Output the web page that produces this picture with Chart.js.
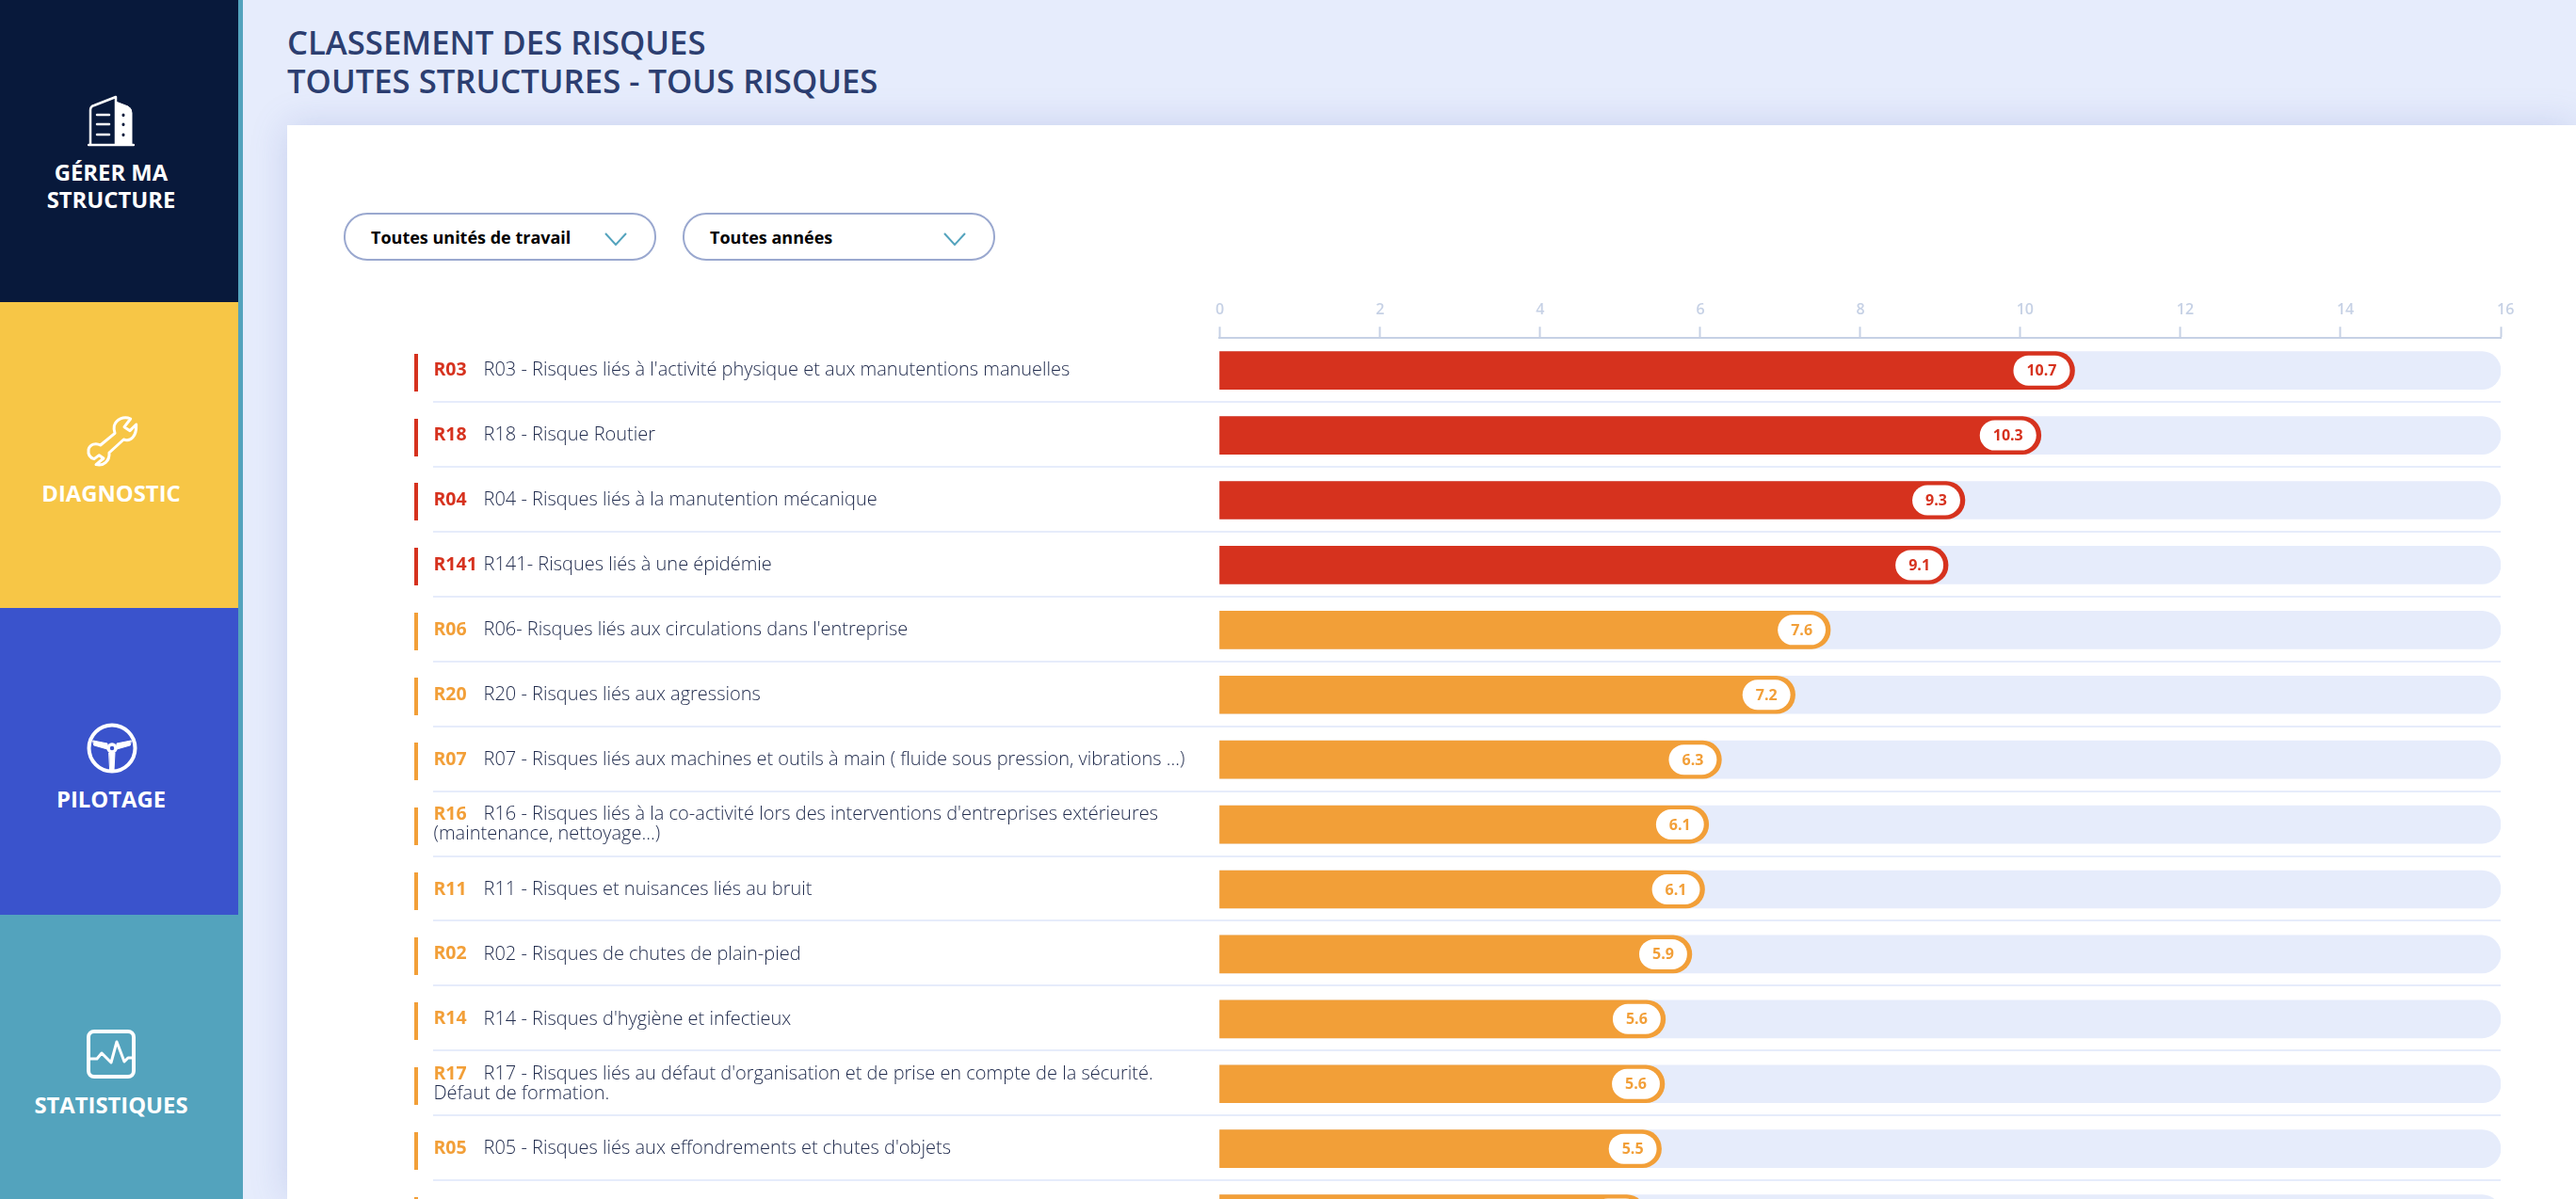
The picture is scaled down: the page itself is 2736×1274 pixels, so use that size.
<!DOCTYPE html>
<html lang="fr">
<head>
  <meta charset="UTF-8" />
  <title>Classement des risques</title>
  <script src="https://cdn.jsdelivr.net/npm/chart.js"></script>
  <style>
    html, body { margin: 0; padding: 0; width: 2736px; height: 1274px; overflow: hidden; background: #e6ecfc; font-family: "Open Sans", sans-serif; }
    .nav { position: absolute; left: 0; width: 253px; color: #fff; }
    .nav .txt { position: absolute; left: 0; width: 236px; text-align: center; font-weight: 700; font-size: 23.8px; line-height: 29px; }
    .nav svg { position: absolute; fill: none; stroke: #fff; stroke-width: 4; stroke-linejoin: round; stroke-linecap: round; }
    #stripe { position: absolute; left: 253px; top: 0; width: 5px; height: 1274px; background: #53a3bd; }
    h1 { position: absolute; left: 305px; top: 24px; margin: 0; font-weight: 600; font-size: 34.7px; line-height: 41px; color: #2c3e70; }
    #panel { position: absolute; left: 305px; top: 133px; width: 2431px; height: 1141px; background: #fff; box-shadow: 0 0 36px rgba(90, 110, 190, .22); }
    .select { position: absolute; top: 226px; width: 328px; height: 47px; border: 2px solid #9aa8cf; border-radius: 25px; font-weight: 700; font-size: 18px; line-height: 49px; color: #000; box-sizing: content-box; }
    .select span { position: absolute; left: 27px; }
    .select svg { position: absolute; left: 275px; top: 19px; fill: none; stroke: #53a3bd; stroke-width: 2; }
    #wrap { position: absolute; left: 305px; top: 300px; width: 2431px; height: 1030px; }
  </style>
</head>
<body>

<div class="nav" style="top:0;height:321px;background:#08193b">
  <svg style="left:93px;top:100px" width="50" height="56" viewBox="0 0 50 56">
    <path d="M3 53V17Q3 13 7 12L30 3V53" style="stroke-width:2.5" />
    <path d="M30 8L43 13Q47 15 47 20V53H30Z" style="stroke-width:1;fill:#fff" />
    <path d="M1 54H49" style="stroke-width:2.5" />
    <path d="M10 22H23M10 32H23M10 43H23" style="stroke-width:2.5" />
    <path d="M38 22v.5M38 32v.5M38 43v.5" style="stroke:#08193b;stroke-width:3" />
  </svg>
  <div class="txt" style="top:169px">GÉRER MA<br>STRUCTURE</div>
</div>
<div class="nav" style="top:321px;height:325px;background:#f7c646">
  <svg style="left:90px;top:119px" width="60" height="59" viewBox="90 30 180 175">
    <path style="stroke-width:9" d="M236 44C214 34 190 46 184 66C182 76 184 84 186 90L140 128C126 120 106 124 102 142C100 158 106 168 120 172L136 160L150 170L126 190C150 196 170 178 168 152L214 110C236 118 256 100 254 62L234 82L216 70Z" />
  </svg>
  <div class="txt" style="top:189px">DIAGNOSTIC</div>
</div>
<div class="nav" style="top:646px;height:326px;background:#3a53cc">
  <svg style="left:92px;top:122px" width="54" height="54" viewBox="0 0 54 54">
    <circle cx="27" cy="27" r="24.5" />
    <path d="M7 19L22 22L22 28L8 24ZM47 19L32 22L32 28L46 24ZM24 32H30L29 50H25Z" style="stroke-width:1;fill:#fff" />
    <circle cx="27" cy="27" r="4" style="stroke-width:3.5" />
  </svg>
  <div class="txt" style="top:189px">PILOTAGE</div>
</div>
<div class="nav" style="top:972px;height:302px;width:258px;background:#53a3bd">
  <svg style="left:91px;top:121px" width="54" height="54" viewBox="0 0 54 54">
    <rect x="3" y="3" width="48" height="48" rx="6" />
    <path d="M4 32H12L17 26L27 36L33 14L41 35L45 31H50" stroke-width="3" />
  </svg>
  <div class="txt" style="top:188px">STATISTIQUES</div>
</div>
<div id="stripe"></div>

<h1>CLASSEMENT DES RISQUES<br>TOUTES STRUCTURES - TOUS RISQUES</h1>
<div id="panel"></div>

<div class="select" style="left:365px"><span>Toutes unités de travail</span>
  <svg width="24" height="14" viewBox="0 0 24 14"><path d="M1 1L12 13L23 1" /></svg></div>
<div class="select" style="left:725px"><span>Toutes années</span>
  <svg width="24" height="14" viewBox="0 0 24 14"><path d="M1 1L12 13L23 1" /></svg></div>

<div id="wrap"><canvas id="mainChart"></canvas></div>

<script>
  const codes = ["R03", "R18", "R04", "R141", "R06", "R20", "R07", "R16", "R11", "R02", "R14", "R17", "R05", ""];
  const labels = [
    ["R03 - Risques liés à l'activité physique et aux manutentions manuelles"],
    ["R18 - Risque Routier"],
    ["R04 - Risques liés à la manutention mécanique"],
    ["R141- Risques liés à une épidémie"],
    ["R06- Risques liés aux circulations dans l'entreprise"],
    ["R20 - Risques liés aux agressions"],
    ["R07 - Risques liés aux machines et outils à main ( fluide sous pression, vibrations ...)"],
    ["R16 - Risques liés à la co-activité lors des interventions d'entreprises extérieures", "(maintenance, nettoyage...)"],
    ["R11 - Risques et nuisances liés au bruit"],
    ["R02 - Risques de chutes de plain-pied"],
    ["R14 - Risques d'hygiène et infectieux"],
    ["R17 - Risques liés au défaut d'organisation et de prise en compte de la sécurité.", "Défaut de formation."],
    ["R05 - Risques liés aux effondrements et chutes d'objets"],
    [""]
  ];
  const scores = [10.68, 10.26, 9.31, 9.10, 7.63, 7.19, 6.27, 6.11, 6.06, 5.90, 5.57, 5.56, 5.52, 5.32];
  const track = [16, 16, 16, 16, 16, 16, 16, 16, 16, 16, 16, 16, 16, 16];
  const xTicks = [0, 2, 4, 6, 8, 10, 12, 14, 16];

  const RED = "#d6321e";
  const ORANGE = "#f29f38";
  const colorOf = v => (v >= 8 ? RED : ORANGE);

  // left column, row rules and value pills are drawn from the scales
  const rowsPlugin = {
    id: "rows",
    beforeDatasetsDraw(chart) {
      const ctx = chart.ctx, y = chart.scales.y;
      ctx.save();
      ctx.fillStyle = "#e6ecfb";
      labels.forEach((l, i) => {
        const bottom = y.getPixelForValue(i) + 34.5;
        ctx.fillRect(155, Math.round(bottom) - 2, chart.chartArea.right - 155, 2);
      });
      ctx.restore();
    },
    afterDatasetsDraw(chart) {
      const ctx = chart.ctx, y = chart.scales.y;
      const bars = chart.getDatasetMeta(1).data;
      ctx.save();
      ctx.textBaseline = "middle";
      scores.forEach((v, i) => {
        const cy = y.getPixelForValue(i), c = colorOf(v), lines = labels[i];
        ctx.fillStyle = c;
        ctx.fillRect(135, Math.round(cy) - 18, 4, 40);

        const top = cy - (lines.length - 1) * 10.5;
        ctx.textAlign = "left";
        ctx.font = "700 19.5px 'Open Sans'";
        ctx.fillText(codes[i], 155.5, top);
        ctx.fillStyle = "#1f2a4c";
        ctx.font = "300 20px 'Open Sans'";
        lines.forEach((t, k) => ctx.fillText(t, k ? 155.5 : 208.5, top + k * 21));

        // pill at the end of the bar
        ctx.font = "700 16px 'Open Sans'";
        const txt = v.toFixed(1);
        const w = ctx.measureText(txt).width + 28;
        const right = bars[i].x - 5;
        ctx.fillStyle = "#fff";
        ctx.beginPath();
        ctx.roundRect(right - w, cy - 16, w, 32, 16);
        ctx.fill();
        ctx.fillStyle = c;
        ctx.textAlign = "center";
        ctx.fillText(txt, right - w / 2, cy + 1);
      });
      ctx.restore();
    }
  };

  new Chart(document.getElementById("mainChart"), {
    type: "bar",
    data: {
      labels: codes.map((c, i) => c || "row" + i),
      datasets: [
        { data: track, backgroundColor: "#e6ecfb", barThickness: 40, borderRadius: { topRight: 20, bottomRight: 20 }, borderSkipped: false, order: 2 },
        { data: scores, backgroundColor: scores.map(colorOf), barThickness: 40, borderRadius: { topRight: 20, bottomRight: 20 }, borderSkipped: false, order: 1 }
      ]
    },
    plugins: [rowsPlugin],
    options: {
      indexAxis: "y",
      responsive: true,
      maintainAspectRatio: false,
      animation: false,
      layout: { padding: { left: 990, right: 80, top: 12, bottom: 6 } },
      plugins: { legend: { display: false }, tooltip: { enabled: false } },
      datasets: { bar: { grouped: false } },
      scales: {
        x: {
          position: "top",
          min: 0,
          max: 16,
          afterBuildTicks: axis => { axis.ticks = xTicks.map(value => ({ value })); },
          grid: { drawOnChartArea: false, tickColor: "#c6d1e5", tickLength: 12, tickWidth: 2 },
          border: { color: "#c6d1e5", width: 2 },
          ticks: { color: "#c6d1e5", align: "start", labelOffset: -4, padding: 8, font: { family: "Open Sans", size: 16, weight: "600" } }
        },
        y: { display: false }
      }
    }
  });
</script>
</body>
</html>
